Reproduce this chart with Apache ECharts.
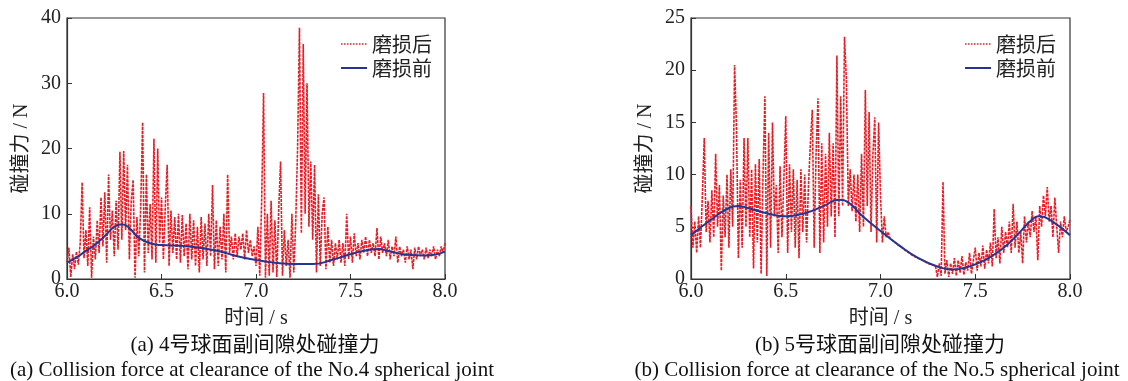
<!DOCTYPE html>
<html>
<head>
<meta charset="utf-8">
<script src="https://cdn.jsdelivr.net/npm/echarts@6/dist/echarts.min.js"></script>
<style>
  html, body { margin: 0; padding: 0; background: #fff; }
  #chart { width: 1128px; height: 381px; }
</style>
</head>
<body>
<div id="chart"></div>
<script>
// 红色：磨损后，从 6.00 s 起每 0.01 s 一个读数
const redStart = 6.0;
const redStep = 0.01;

const redA = [
  2.6, 4.8, 0.3, 3.8, 1.5, 4.2, 2.2, 5.5, 14.8, 3.2,
  7.5, 2.0, 11.0, 0.2, 6.5, 3.0, 9.0, 4.0, 12.5, 5.0,
  13.3, 2.5, 16.0, 6.0, 10.5, 3.5, 12.0, 4.5, 19.5, 6.0,
  19.6, 7.5, 17.5, 3.0, 12.0, 15.2, 0.2, 9.5, 3.5, 11.0,
  24.0, 1.0, 16.0, 4.0, 11.5, 3.0, 21.5, 2.5, 20.0, 5.5,
  12.5, 3.0, 11.0, 17.5, 2.0, 10.5, 4.0, 9.5, 3.0, 10.0,
  2.5, 9.8, 3.5, 8.5, 1.5, 10.0, 3.0, 9.0, 2.0, 8.0,
  1.0, 9.5, 3.0, 8.5, 2.0, 10.0, 3.5, 14.4, 1.5, 9.0,
  2.0, 8.0, 3.0, 10.0, 1.0, 16.0, 4.0, 6.5, 3.0, 7.0,
  3.5, 6.5, 4.5, 7.0, 3.0, 7.5, 4.0, 6.0, 3.5, 5.0,
  2.0, 8.0, 0.5, 12.0, 28.5, 0.2, 10.0, 0.5, 12.0, 1.0,
  9.0, 0.3, 10.5, 18.0, 0.5, 7.5, 2.0, 6.0, 0.2, 10.0,
  1.0, 8.5, 20.0, 38.5, 7.0, 36.0, 10.0, 30.0, 8.0, 18.0,
  6.0, 17.5, 1.0, 13.0, 2.0, 10.0, 12.5, 1.5, 8.0, 2.5,
  6.0, 2.0, 5.5, 3.0, 6.0, 2.5, 5.5, 2.0, 10.0, 3.0,
  6.5, 2.5, 7.0, 3.5, 5.5, 3.0, 6.0, 4.0, 6.5, 3.5,
  6.0, 4.0, 5.5, 3.5, 7.8, 3.0, 6.5, 4.0, 5.5, 3.5,
  6.0, 3.0, 5.0, 3.5, 6.5, 2.5, 5.0, 3.5, 4.5, 2.5,
  5.0, 3.0, 4.5, 1.5, 4.8, 3.0, 5.0, 3.5, 4.5, 3.0,
  4.8, 3.2, 4.5, 3.5, 5.0, 3.0, 4.5, 3.5, 5.0, 4.0,
  5.5
];

const redB = [
  7.0, 3.0, 5.5, 2.5, 6.0, 3.0, 8.0, 13.5, 4.5, 7.5,
  3.5, 8.5, 4.0, 12.0, 5.0, 9.0, 0.8, 8.0, 4.0, 10.0,
  3.0, 10.5, 5.0, 20.5, 14.5, 2.0, 9.5, 3.0, 13.5, 5.0,
  13.5, 4.0, 10.5, 1.0, 11.0, 3.5, 11.5, 0.5, 10.0, 17.5,
  0.3, 14.0, 3.0, 15.0, 6.0, 9.0, 2.5, 10.8, 4.0, 9.5,
  15.6, 2.5, 11.0, 4.5, 10.5, 3.0, 9.5, 2.0, 10.5, 4.5,
  10.0, 3.5, 9.0, 13.0, 16.2, 3.0, 12.0, 17.3, 2.5, 13.0,
  3.5, 12.0, 5.0, 14.0, 6.0, 13.0, 4.0, 21.4, 6.0, 17.5,
  7.0, 23.2, 19.0, 7.0, 10.5, 6.5, 10.0, 5.5, 10.0, 4.5,
  12.0, 5.0, 18.1, 7.0, 16.0, 4.5, 12.0, 15.5, 3.5, 15.0,
  8.0, 3.5, 6.0, 4.0, 4.5, 3.9, 3.75, 3.6, 3.45, 3.3,
  3.2, 3.05, 2.9, 2.75, 2.6, 2.5, 2.35, 2.25, 2.1, 2.05,
  2.0, 1.9, 1.8, 1.7, 1.6, 1.5, 1.45, 1.35, 1.3, 1.25,
  0.2, 1.5, 0.3, 9.3, 0.5, 1.8, 0.2, 1.5, 0.5, 2.0,
  0.3, 1.8, 0.6, 2.2, 0.4, 1.6, 0.8, 2.5, 0.5, 1.8,
  3.0, 0.8, 2.5, 1.2, 3.2, 1.0, 2.8, 1.5, 3.5, 1.2,
  6.7, 2.0, 4.0, 1.5, 5.0, 2.5, 4.5, 3.0, 5.5, 2.5,
  7.2, 3.0, 5.5, 2.5, 4.5, 1.5, 6.0, 3.5, 5.5, 4.0,
  6.5, 4.5, 6.0, 1.8, 7.0, 5.0, 8.0, 6.0, 8.8, 5.5,
  7.0, 4.0, 7.8, 5.0, 2.5, 5.5, 4.0, 6.0, 4.5, 5.0,
  5.7
];

// 蓝色：磨损前（平滑曲线读数）
const blueTimeA = [6.0, 6.05, 6.1, 6.15, 6.2, 6.25, 6.29, 6.33, 6.38, 6.45, 6.5, 6.6, 6.7, 6.8, 6.9, 7.0, 7.1, 7.2, 7.3, 7.4, 7.5, 7.6, 7.65, 7.7, 7.8, 7.9, 8.0];
const blueA     = [2.5, 3.3, 4.3, 5.3, 6.6, 8.0, 8.4, 7.8, 6.3, 5.4, 5.2, 5.1, 4.8, 4.3, 3.5, 2.9, 2.5, 2.3, 2.3, 2.9, 3.8, 4.5, 4.6, 4.3, 3.7, 3.6, 4.2];

const blueTimeB = [6.0, 6.1, 6.2, 6.25, 6.3, 6.4, 6.5, 6.6, 6.7, 6.78, 6.84, 6.9, 7.0, 7.1, 7.2, 7.3, 7.38, 7.45, 7.55, 7.65, 7.72, 7.8, 7.84, 7.9, 8.0];
const blueB     = [4.2, 5.6, 6.8, 7.0, 6.8, 6.3, 6.0, 6.3, 7.0, 7.6, 7.2, 6.1, 4.6, 3.2, 2.0, 1.2, 0.9, 1.1, 1.8, 3.0, 4.2, 5.7, 6.0, 5.6, 4.2];

const yMaxA = 40, yStepA = 10;
const yMaxB = 25, yStepB = 5;

const captionsCn = ['(a) 4号球面副间隙处碰撞力', '(b) 5号球面副间隙处碰撞力'];
const captionsEn = ['(a) Collision force at clearance of the No.4 spherical joint',
                    '(b) Collision force at clearance of the No.5 spherical joint'];

const RED = '#e81c24';
const BLUE = '#27358f';
const SERIF = '"Liberation Serif", "Noto Sans CJK SC", serif';
const CJK = '"Noto Sans CJK SC", sans-serif';

const toPairs = arr => arr.map((v, i) => [+(redStart + i * redStep).toFixed(2), v]);
const zip = (ts, vs) => ts.map((t, i) => [t, vs[i]]);

const chart = echarts.init(document.getElementById('chart'));

const makeX = idx => ({
  type: 'value', gridIndex: idx, min: 6, max: 8, interval: 0.5,
  name: '时间 / s', nameLocation: 'middle', nameGap: 30,
  nameTextStyle: { fontFamily: SERIF, fontSize: 20, color: '#222' },
  axisLine: { lineStyle: { color: '#333', width: 1.2 } },
  axisTick: { inside: true, length: 5, lineStyle: { color: '#333' } },
  axisLabel: { fontFamily: SERIF, fontSize: 20, color: '#222', margin: 3,
               formatter: v => v.toFixed(1) },
  splitLine: { show: false }
});
const makeY = (idx, max, step) => ({
  type: 'value', gridIndex: idx, min: 0, max: max, interval: step,
  name: '碰撞力 / N', nameLocation: 'middle', nameGap: 35,
  nameTextStyle: { fontFamily: SERIF, fontSize: 20, color: '#222' },
  axisLine: { show: true, lineStyle: { color: '#333', width: 1.2 } },
  axisTick: { show: true, inside: true, length: 5, lineStyle: { color: '#333' } },
  axisLabel: { fontFamily: SERIF, fontSize: 20, color: '#222', margin: 6 },
  splitLine: { show: false }
});
const redSeries = (idx, data) => ({
  name: '磨损后', type: 'line', xAxisIndex: idx, yAxisIndex: idx,
  data: data, symbol: 'none', z: 2,
  lineStyle: { color: RED, width: 1.6, type: [3, 1] }, itemStyle: { color: RED }
});
const blueSeries = (idx, data) => ({
  name: '磨损前', type: 'line', xAxisIndex: idx, yAxisIndex: idx,
  data: data, symbol: 'none', smooth: 0.5, z: 3,
  lineStyle: { color: BLUE, width: 2 }, itemStyle: { color: BLUE }
});
const makeLegend = left => ({
  left: left, top: 29, orient: 'vertical', itemWidth: 26, itemHeight: 14, itemGap: 4,
  itemStyle: { opacity: 0 },
  data: [
    { name: '磨损后', lineStyle: { type: 'dotted', width: 1.5, color: RED } },
    { name: '磨损前', lineStyle: { type: 'solid', width: 2, color: BLUE } }
  ],
  textStyle: { fontFamily: CJK, fontSize: 20, lineHeight: 20, color: '#222' }
});
const caption = (x, y, text, font) => ({
  type: 'text', x: x, y: y,
  style: { text: text, font: font, fill: '#111', textAlign: 'center', textVerticalAlign: 'middle' }
});

chart.setOption({
  animation: false,
  grid: [
    { left: 67, top: 18, width: 378, height: 261, show: true, borderColor: '#333', borderWidth: 1.2 },
    { left: 691, top: 18, width: 379, height: 261, show: true, borderColor: '#333', borderWidth: 1.2 }
  ],
  xAxis: [makeX(0), makeX(1)],
  yAxis: [makeY(0, yMaxA, yStepA), makeY(1, yMaxB, yStepB)],
  legend: [makeLegend(335), makeLegend(959)],
  series: [
    redSeries(0, toPairs(redA)), blueSeries(0, zip(blueTimeA, blueA)),
    redSeries(1, toPairs(redB)), blueSeries(1, zip(blueTimeB, blueB))
  ],
  graphic: [
    caption(255, 345, captionsCn[0], '21px ' + SERIF),
    caption(252, 370, captionsEn[0], '21px ' + SERIF),
    caption(880, 345, captionsCn[1], '21px ' + SERIF),
    caption(877, 370, captionsEn[1], '21px ' + SERIF)
  ]
});
</script>
</body>
</html>
